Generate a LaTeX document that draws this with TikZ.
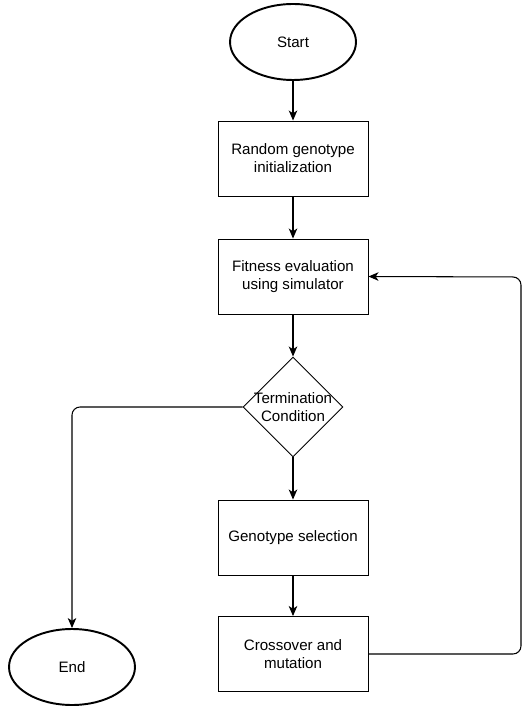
\documentclass[tikz,border=0pt]{standalone}
\usepackage{fontspec}
\setmainfont{Liberation Sans}
\usetikzlibrary{arrows.meta,shapes.geometric}
\tikzset{
  terminal/.style={ellipse,draw=black,line width=1.1pt,inner sep=0pt,
                   minimum width=2.52cm,minimum height=1.52cm,
                   font=\fontsize{8.6}{10.2}\selectfont},
  stepbox/.style={rectangle,draw=black,line width=0.55pt,inner sep=0pt,
                  minimum width=3cm,minimum height=1.5cm,align=center,
                  font=\fontsize{8.6}{10.2}\selectfont},
  decision/.style={diamond,draw=black,line width=0.55pt,inner sep=0pt,
                   minimum width=2cm,minimum height=2cm,align=center,
                   font=\fontsize{8.6}{10.2}\selectfont},
  flowarr/.style={-{Stealth[length=2mm,width=1.7mm,inset=0.55mm]},
                  line width=0.6pt,draw=black}
}
\begin{document}
\begin{tikzpicture}[x=0.02cm,y=-0.02cm]
    \path[use as bounding box] (0,0) rectangle (527,709);

    \node[terminal] (start) at (293,42) {Start};
    \node[stepbox] (init) at (293,158.5) {Random genotype\\initialization};
    \node[stepbox] (fitness) at (293,276.5) {Fitness evaluation\\using simulator};
    \node[decision] (cond) at (293,407) {};
    \node[align=center,font=\fontsize{8.6}{10.2}\selectfont] (condtext) at (cond.center) {Termination\\Condition};
    \node[stepbox] (select) at (293,537.5) {Genotype selection};
    \node[stepbox] (cross) at (293,654) {Crossover and\\mutation};
    \node[terminal] (finish) at (72,667) {End};
    \coordinate (loop) at (521,277);

    \draw[flowarr] (start) -- (init);
    \draw[flowarr] (init) -- (fitness);
    \draw[flowarr] (fitness) -- (cond);
    \draw[flowarr] (cond) -- (select);
    \draw[flowarr] (select) -- (cross);
    \draw[flowarr,rounded corners=0.16cm] (cond.west) -| (finish.north);
    \draw[flowarr,rounded corners=0.16cm] (cross.east) -| (loop) -- (fitness.east);
  \end{tikzpicture}
\end{document}
